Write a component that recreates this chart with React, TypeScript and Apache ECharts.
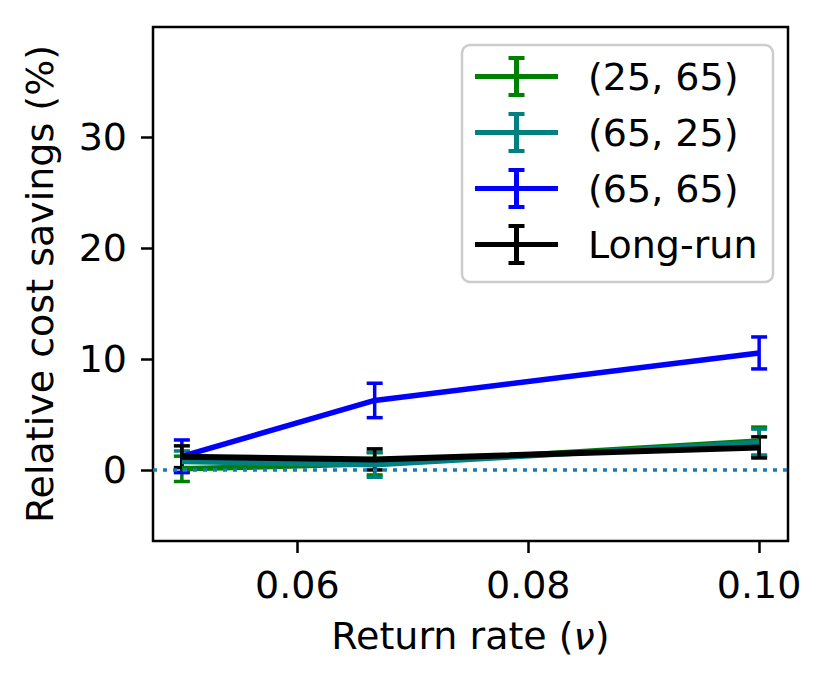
import React, { useEffect, useRef } from "react";
import * as echarts from "echarts";

const xValues = [0.05, 0.0667, 0.1];
const seriesNames = ["(25, 65)", "(65, 25)", "(65, 65)", "Long-run"];
const seriesColors = ["#008000", "#008080", "#0000ff", "#000000"];
const greenValues = [0.1, 0.55, 2.6];
const greenErrors = [1.14, 1.0, 1.26];
const tealValues = [0.75, 0.47, 2.48];
const tealErrors = [0.96, 1.13, 1.2];
const blueValues = [1.23, 6.26, 10.54];
const blueErrors = [1.47, 1.55, 1.44];
const longRunValues = [1.19, 0.95, 2.03];
const longRunErrors = [0.98, 0.95, 0.95];
const xTicks = [0.06, 0.08, 0.1];
const yTicks = [0, 10, 20, 30];
const referenceLevel = 0;

const X_MIN = 0.0475;
const X_MAX = 0.1025;
const Y_MIN = -6.4;
const Y_MAX = 39.9;

const FONT = "DejaVu Sans";
const FS = 38;

const legendIcon =
  "path://M0,18h83v5h-83z M39,2h5v37h-5z M33.5,0h16v4h-16z M33.5,37h16v4h-16z";

export default function App() {
  const ref = useRef<HTMLDivElement>(null);

  useEffect(() => {
    document.body.style.margin = "0";
    if (!ref.current) return;
    const chart = echarts.init(ref.current, null, { renderer: "svg" });

    const groups = [
      { values: greenValues, errors: greenErrors, lw: 5.5 },
      { values: tealValues, errors: tealErrors, lw: 5.5 },
      { values: blueValues, errors: blueErrors, lw: 5.5 },
      { values: longRunValues, errors: longRunErrors, lw: 6 },
    ];

    const series: any[] = [];
    groups.forEach((g, i) => {
      const color = seriesColors[i];
      series.push({
        name: seriesNames[i],
        type: "line",
        data: xValues.map((x, k) => [x, g.values[k]]),
        symbol: "none",
        color,
        lineStyle: { color, width: g.lw },
        itemStyle: { color },
        z: 2,
      });
      series.push({
        name: "eb" + i,
        type: "custom",
        data: xValues.map((x, k) => [x, g.values[k] - g.errors[k], g.values[k] + g.errors[k]]),
        encode: { x: 0, y: [1, 2] },
        z: 2,
        renderItem: (params: any, api: any) => {
          const x = api.value(0);
          const lo = api.coord([x, api.value(1)]);
          const hi = api.coord([x, api.value(2)]);
          const half = 8;
          const st = { stroke: color, lineWidth: 3.5, fill: "none" };
          return {
            type: "group",
            children: [
              { type: "line", shape: { x1: lo[0], y1: lo[1], x2: hi[0], y2: hi[1] }, style: st },
              { type: "line", shape: { x1: lo[0] - half, y1: lo[1], x2: lo[0] + half, y2: lo[1] }, style: st },
              { type: "line", shape: { x1: hi[0] - half, y1: hi[1], x2: hi[0] + half, y2: hi[1] }, style: st },
            ],
          };
        },
      });
    });

    series.push({
      name: "zero",
      type: "line",
      data: [
        [X_MIN, referenceLevel],
        [X_MAX, referenceLevel],
      ],
      symbol: "none",
      lineStyle: { color: "#1f77b4", width: 3.5, type: [4, 6] },
      z: 3,
      silent: true,
    });

    chart.setOption({
      animation: false,
      textStyle: { fontFamily: FONT },
      grid: {
        left: 153,
        top: 27,
        width: 635,
        height: 514,
        show: true,
        borderColor: "#000",
        borderWidth: 2.5,
        backgroundColor: "#fff",
      },
      xAxis: {
        type: "value",
        min: X_MIN,
        max: X_MAX,
        splitLine: { show: false },
        axisLine: { show: false, onZero: false },
        axisTick: {
          show: true,
          customValues: xTicks,
          length: 12,
          lineStyle: { color: "#000", width: 2.5 },
        },
        axisLabel: {
          customValues: xTicks,
          margin: 25,
          fontSize: FS,
          color: "#000",
          fontFamily: FONT,
          formatter: (v: number) => v.toFixed(2),
        },
        name: "Return rate ({i|\u03bd})",
        nameLocation: "middle",
        nameGap: 76,
        nameTextStyle: {
          fontSize: FS,
          color: "#000",
          fontFamily: FONT,
          rich: { i: { fontSize: FS, color: "#000", fontFamily: FONT, fontStyle: "italic" } },
        },
      },
      yAxis: {
        type: "value",
        min: Y_MIN,
        max: Y_MAX,
        splitLine: { show: false },
        axisLine: { show: false, onZero: false },
        axisTick: {
          show: true,
          customValues: yTicks,
          length: 12,
          lineStyle: { color: "#000", width: 2.5 },
        },
        axisLabel: {
          customValues: yTicks,
          margin: 26,
          fontSize: FS,
          color: "#000",
          fontFamily: FONT,
        },
        name: "Relative cost savings (%)",
        nameLocation: "middle",
        nameRotate: 90,
        nameGap: 94,
        nameTextStyle: { fontSize: FS, color: "#000", fontFamily: FONT },
      },
      legend: {
        data: seriesNames,
        orient: "vertical",
        left: 475,
        top: 56,
        padding: 0,
        itemWidth: 83,
        itemHeight: 41,
        itemGap: 15,
        icon: legendIcon,
        itemStyle: { borderWidth: 0 },
        textStyle: { fontSize: FS, color: "#000", fontFamily: FONT, padding: [0, 0, 0, 25] },
        z: 5,
        selectedMode: false,
      },
      graphic: [
        {
          type: "rect",
          z: 4,
          shape: { x: 462, y: 45, width: 311, height: 237, r: 8 },
          style: { fill: "rgba(255,255,255,0.8)", stroke: "#cccccc", lineWidth: 2.5 },
        },
      ],
      series,
    });

    return () => chart.dispose();
  }, []);

  return <div ref={ref} style={{ width: 829, height: 686 }} />;
}
